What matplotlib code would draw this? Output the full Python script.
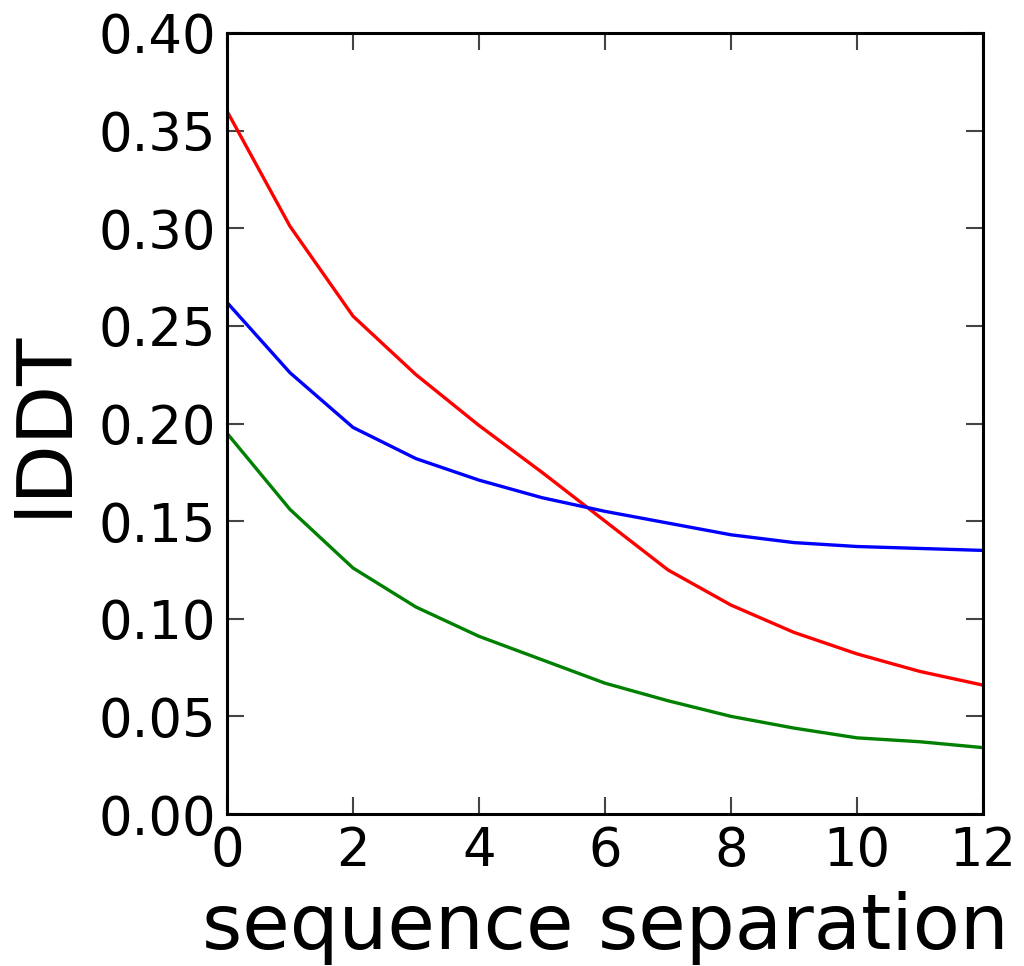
import numpy as np
import matplotlib.pyplot as plt

# sequence separation vs lDDT, three curves
sep = np.arange(0, 13)
red = [0.360, 0.301, 0.255, 0.225, 0.199, 0.175, 0.150, 0.125, 0.107, 0.093, 0.082, 0.073, 0.066]
blue = [0.262, 0.226, 0.198, 0.182, 0.171, 0.162, 0.155, 0.149, 0.143, 0.139, 0.137, 0.136, 0.135]
green = [0.195, 0.156, 0.126, 0.106, 0.091, 0.079, 0.067, 0.058, 0.050, 0.044, 0.039, 0.037, 0.034]

fig = plt.figure(figsize=(10.24, 9.66), dpi=100)
ax = fig.add_axes([227/1024, 1 - 814/966, (983-227)/1024, (814-33)/966])

ax.plot(sep, red, color='#ff0000', lw=2.4)
ax.plot(sep, blue, color='#0000ff', lw=2.4)
ax.plot(sep, green, color='#008000', lw=2.4)

ax.set_xlim(0, 12)
ax.set_ylim(0, 0.4)
ax.set_xticks(np.arange(0, 13, 2))
ax.set_yticks(np.arange(0, 0.41, 0.05))
ax.set_yticklabels(['%.2f' % v for v in np.arange(0, 0.41, 0.05)])

ax.tick_params(direction='in', length=12, width=1.5, labelsize=38, pad=8,
               top=True, right=True, color='#444444')
for s in ax.spines.values():
    s.set_linewidth(2.2)

ax.set_xlabel('sequence separation', fontsize=55.5, labelpad=10)
ax.set_ylabel('lDDT', fontsize=55.5, labelpad=12)

fig.savefig('out.png', dpi=100, facecolor='white')
